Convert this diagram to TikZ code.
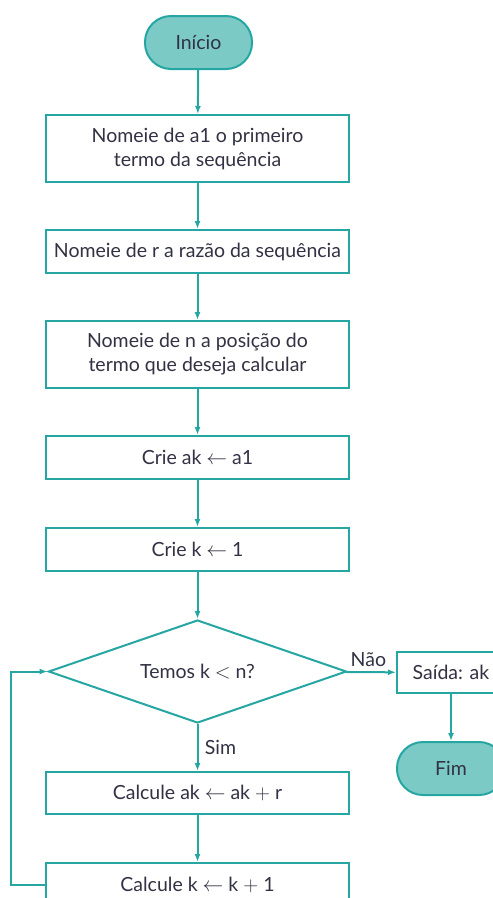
\documentclass[tikz,border=0pt]{standalone}
\usepackage{fontspec}
\setmainfont{Lato}
\usepackage{xcolor}
\usepackage{tikz}
\usetikzlibrary{calc, shapes.geometric, arrows.meta}

\definecolor{tealline}{RGB}{38,166,162}
\definecolor{tealfill}{RGB}{124,202,197}
\definecolor{inktext}{RGB}{50,50,68}

\tikzset{
    flowbox/.style={draw=tealline, line width=2pt, fill=white, text=inktext,
        minimum width=303pt, inner sep=0pt, align=center, font=\fontsize{19.5}{24}\selectfont},
    endbox/.style={draw=tealline, line width=2pt, fill=tealfill, text=inktext,
        rounded corners=26pt, minimum width=107pt, minimum height=53pt, inner sep=0pt,
        font=\fontsize{19.5}{24}\selectfont},
    testbox/.style={diamond, aspect=2.9, draw=tealline, line width=2pt, text=inktext,
        minimum width=298pt, minimum height=103pt, inner sep=0pt, font=\fontsize{19.5}{24}\selectfont},
    flowarrow/.style={-{Latex[length=8pt, width=6pt]}, draw=tealline, line width=2pt},
    tag/.style={text=inktext, font=\fontsize{19.5}{24}\selectfont}
}

\begin{document}
\begin{tikzpicture}[x=1pt, y=-1pt]

    % =================================================================
    % 1. KHUNG HINH (giu dung ty le 493 x 898)
    % =================================================================
    \useasboundingbox (0,0) rectangle (493,898);

    % =================================================================
    % 2. CAC KHOI CUA LUU DO
    % =================================================================
    \node[endbox] (inicio) at (198.5, 42.5) {Início};
    \node[flowbox, minimum height=67pt] (nomeiaA) at (197.5, 148.5) {Nomeie de a1 o primeiro\\termo da sequência};
    \node[flowbox, minimum height=43pt] (nomeiaR) at (197.5, 251.5) {Nomeie de r a razão da sequência};
    \node[flowbox, minimum height=67pt] (nomeiaN) at (197.5, 354.5) {Nomeie de n a posição do\\termo que deseja calcular};
    \node[flowbox, minimum height=43pt] (criaAk) at (197.5, 457.5) {Crie ak $\leftarrow$ a1};
    \node[flowbox, minimum height=43pt] (criaK) at (197.5, 549.5) {Crie k $\leftarrow$ 1};

    % Khoi dieu kien
    \node[testbox] (teste) at (197.5, 671.5) {Temos k $<$ n?};

    \node[flowbox, minimum height=42pt] (calcAk) at (197.5, 793) {Calcule ak $\leftarrow$ ak $+$ r};
    \node[flowbox, minimum height=44pt] (calcK) at (197.5, 885) {Calcule k $\leftarrow$ k $+$ 1};

    % Nhanh ket thuc
    \node[flowbox, minimum width=108pt, minimum height=41pt] (saida) at (451, 672.5) {Saída: ak};
    \node[endbox, minimum width=108pt] (fim) at (451, 768.5) {Fim};

    % =================================================================
    % 3. CAC MUI TEN
    % =================================================================
    \draw[flowarrow] (inicio) -- (nomeiaA);
    \draw[flowarrow] (nomeiaA) -- (nomeiaR);
    \draw[flowarrow] (nomeiaR) -- (nomeiaN);
    \draw[flowarrow] (nomeiaN) -- (criaAk);
    \draw[flowarrow] (criaAk) -- (criaK);
    \draw[flowarrow] (criaK) -- (teste);
    \draw[flowarrow] (teste) -- node[tag, right=3pt] {Sim} (calcAk);
    \draw[flowarrow] (calcAk) -- (calcK);
    \draw[flowarrow] (teste) -- node[tag, above=1pt, pos=0.45] {Não} (saida);
    \draw[flowarrow] (saida) -- (fim);

    % Vong lap quay lai khoi dieu kien
    \draw[flowarrow] (calcK.west) -- ++(-34,0) |- (teste.west);

\end{tikzpicture}
\end{document}
